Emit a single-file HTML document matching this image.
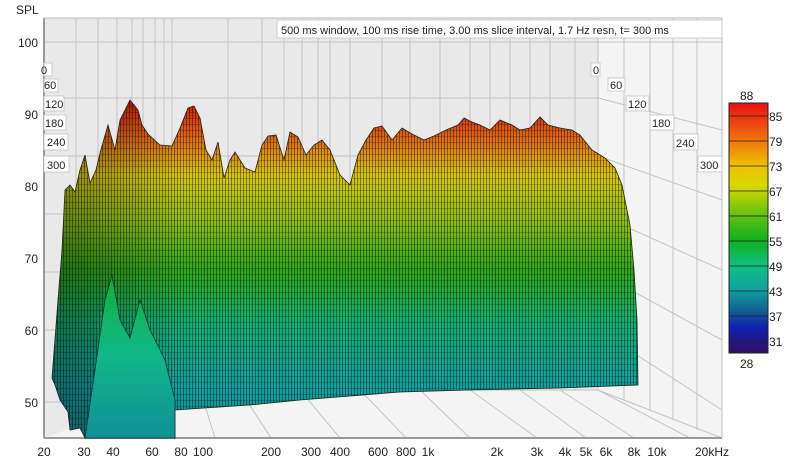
<!DOCTYPE html>
<html><head><meta charset="utf-8"><style>
body{margin:0;background:#fff;}
svg{display:block;font-family:"Liberation Sans",sans-serif;}
</style></head><body>
<svg width="800" height="465" viewBox="0 0 800 465" xmlns="http://www.w3.org/2000/svg">
<defs>
<linearGradient id="g" x1="0" y1="100" x2="0" y2="440" gradientUnits="userSpaceOnUse">
<stop offset="0" stop-color="#d01808"/>
<stop offset="0.12" stop-color="#e07010"/>
<stop offset="0.22" stop-color="#d8c800"/>
<stop offset="0.35" stop-color="#90c010"/>
<stop offset="0.5" stop-color="#30a818"/>
<stop offset="0.65" stop-color="#10b070"/>
<stop offset="0.85" stop-color="#10a0a0"/>
<stop offset="1" stop-color="#108890"/>
</linearGradient>
<linearGradient id="gm" x1="0" y1="270" x2="0" y2="438" gradientUnits="userSpaceOnUse">
<stop offset="0" stop-color="#10b030"/>
<stop offset="0.5" stop-color="#10b888"/>
<stop offset="1" stop-color="#109098"/>
</linearGradient>
<pattern id="st" width="3" height="6" patternUnits="userSpaceOnUse">
<rect x="0" y="0" width="0.9" height="6" fill="#000" opacity="0.45"/>
<rect x="0" y="4" width="3" height="0.7" fill="#000" opacity="0.3"/>
</pattern>
<linearGradient id="dk" x1="0" y1="0" x2="1" y2="0">
<stop offset="0" stop-color="#000" stop-opacity="0.35"/>
<stop offset="1" stop-color="#000" stop-opacity="0"/>
</linearGradient>
<linearGradient id="cb" x1="0" y1="0" x2="0" y2="1">
<stop offset="0" stop-color="#e81010"/>
<stop offset="0.12" stop-color="#f06010"/>
<stop offset="0.25" stop-color="#f0c000"/>
<stop offset="0.33" stop-color="#d8d800"/>
<stop offset="0.45" stop-color="#60c010"/>
<stop offset="0.55" stop-color="#10b020"/>
<stop offset="0.65" stop-color="#10c080"/>
<stop offset="0.75" stop-color="#10a0a0"/>
<stop offset="0.83" stop-color="#106090"/>
<stop offset="0.9" stop-color="#1020b0"/>
<stop offset="1" stop-color="#301060"/>
</linearGradient>
<clipPath id="cp"><path id="sp" d="M52,378 L58,300 L62,250 L65,190 L70,185 L75,192 L80,170 L85,155 L90,183 L96,170 L100,153 L108,125 L115,150 L120,120 L130,100 L138,110 L142,125 L148,134 L160,145 L172,146 L180,128 L188,108 L194,106 L200,118 L206,150 L212,160 L218,142 L224,178 L230,160 L235,152 L245,168 L255,172 L262,145 L268,136 L276,135 L284,160 L290,132 L298,137 L306,155 L314,145 L322,140 L330,150 L340,175 L350,185 L358,155 L366,140 L374,128 L382,126 L392,140 L402,128 L412,134 L424,140 L434,136 L446,130 L458,125 L464,118 L472,122 L480,125 L490,130 L500,120 L512,125 L520,130 L530,128 L540,117 L548,125 L560,128 L572,130 L580,135 L592,150 L605,158 L615,168 L622,185 L630,225 L634,270 L637,320 L638,385 L560,388 L470,390 L400,392 L300,400 L250,405 L175,410 L175,438 L85,438 L80,428 L70,430 L68,412 L60,400 L55,385 Z"/></clipPath>
</defs>
<text x="16" y="14" font-size="12" fill="#222">SPL</text>
<rect x="44" y="18" width="678" height="420" fill="#f4f4f4"/>
<polygon points="44,18 598,18 598,390 175,390 44,438" fill="#e9e9e9"/>
<g stroke="#c4c4c4" stroke-width="1" fill="none">
<line x1="44" y1="42" x2="722" y2="42"/>
<line x1="44" y1="98" x2="598" y2="98"/>
<line x1="44" y1="156" x2="598" y2="156"/>
<line x1="44" y1="214" x2="598" y2="214"/>
<line x1="44" y1="272" x2="598" y2="272"/>
<line x1="44" y1="330" x2="598" y2="330"/>
<line x1="44" y1="402" x2="175" y2="402"/>
<line x1="598" y1="98" x2="722" y2="130"/>
<line x1="598" y1="156" x2="722" y2="200"/>
<line x1="598" y1="214" x2="722" y2="270"/>
<line x1="598" y1="272" x2="722" y2="340"/>
<line x1="598" y1="330" x2="722" y2="410"/>
<line x1="598" y1="390" x2="722" y2="438"/>
<line x1="175" y1="390" x2="598" y2="390"/>
<path d="M76 18V390M98 18V390M117 18V390M132 18V390M143 18V390M155 18V390M164 18V390M172 18V390M228 18V390M262 18V390M284 18V390M302 18V390M318 18V390M330 18V390M350 18V390M382 18V390M410 18V390M440 18V390M470 18V390M490 18V390M510 18V390M530 18V390M550 18V390M575 18V390M598 18V390M624 18V400M650 18V410M673 18V420M697 18V430"/>
<path d="M200 390L215 438M240 390L271 438M300 390L340 438M360 390L406 438M420 390L470 438M470 390L537 438M520 390L586 438M560 390L634 438M598 390L690 438"/>
</g>
<line x1="44" y1="18" x2="44" y2="438" stroke="#999" stroke-width="2"/>
<line x1="44" y1="438" x2="722" y2="438" stroke="#999" stroke-width="2"/>
<line x1="722" y1="18" x2="722" y2="438" stroke="#bbb"/>
<line x1="44" y1="18" x2="722" y2="18" stroke="#bbb"/>
<g clip-path="url(#cp)">
<rect x="44" y="90" width="600" height="350" fill="url(#g)"/>
<rect x="44" y="90" width="600" height="350" fill="url(#st)"/>
<rect x="44" y="90" width="140" height="350" fill="url(#dk)"/>
</g>
<use href="#sp" fill="none" stroke="#222" stroke-width="0.8"/>
<polygon points="85,438 95,370 105,300 112,275 120,320 130,338 140,300 150,330 165,360 175,400 175,438" fill="url(#gm)" stroke="#133" stroke-width="0.8"/>
<g font-size="12" fill="#222" text-anchor="end">
<text x="38" y="47">100</text><text x="38" y="119">90</text><text x="38" y="191">80</text>
<text x="38" y="263">70</text><text x="38" y="335">60</text><text x="38" y="407">50</text>
</g>
<g font-size="12" fill="#222" text-anchor="middle">
<text x="44" y="456">20</text><text x="84" y="456">30</text><text x="113" y="456">40</text>
<text x="152" y="456">60</text><text x="181" y="456">80</text><text x="203" y="456">100</text>
<text x="271" y="456">200</text><text x="311" y="456">300</text><text x="340" y="456">400</text>
<text x="378" y="456">600</text><text x="406" y="456">800</text><text x="428" y="456">1k</text>
<text x="497" y="456">2k</text><text x="537" y="456">3k</text><text x="565" y="456">4k</text>
<text x="586" y="456">5k</text><text x="606" y="456">6k</text><text x="634" y="456">8k</text>
<text x="657" y="456">10k</text><text x="712" y="456">20kHz</text>
</g>
<g font-size="11" fill="#222">
<rect x="277" y="20" width="445" height="18" fill="#fff" stroke="#ccc"/>
<text x="281" y="34">500 ms window, 100 ms rise time, 3.00 ms slice interval, 1.7 Hz resn, t= 300 ms</text>
<rect x="44" y="63" width="8" height="13" fill="#fff" stroke="#ccc"/><text x="41" y="74">0</text>
<rect x="44" y="79" width="14" height="13" fill="#fff" stroke="#ccc"/><text x="44" y="89">60</text>
<rect x="44" y="96" width="20" height="15" fill="#fff" stroke="#ccc"/><text x="45" y="108">120</text>
<rect x="44" y="115" width="22" height="15" fill="#fff" stroke="#ccc"/><text x="45" y="127">180</text>
<rect x="44" y="134" width="24" height="16" fill="#fff" stroke="#ccc"/><text x="47" y="146">240</text>
<rect x="44" y="156" width="25" height="16" fill="#fff" stroke="#ccc"/><text x="47" y="169">300</text>
<rect x="591" y="63" width="9" height="13" fill="#fff" stroke="#ccc"/><text x="593" y="74">0</text>
<rect x="608" y="78" width="17" height="13" fill="#fff" stroke="#ccc"/><text x="610" y="89">60</text>
<rect x="626" y="96" width="23" height="15" fill="#fff" stroke="#ccc"/><text x="628" y="108">120</text>
<rect x="650" y="115" width="24" height="15" fill="#fff" stroke="#ccc"/><text x="652" y="127">180</text>
<rect x="674" y="134" width="24" height="16" fill="#fff" stroke="#ccc"/><text x="676" y="147">240</text>
<rect x="698" y="156" width="24" height="16" fill="#fff" stroke="#ccc"/><text x="700" y="169">300</text>
</g>
<rect x="729" y="103" width="39" height="250" fill="url(#cb)" stroke="#222"/>
<g stroke="#222" stroke-width="0.8">
<line x1="729" y1="116" x2="768" y2="116"/><line x1="729" y1="141" x2="768" y2="141"/>
<line x1="729" y1="166" x2="768" y2="166"/><line x1="729" y1="191" x2="768" y2="191"/>
<line x1="729" y1="216" x2="768" y2="216"/><line x1="729" y1="241" x2="768" y2="241"/>
<line x1="729" y1="266" x2="768" y2="266"/><line x1="729" y1="291" x2="768" y2="291"/>
<line x1="729" y1="316" x2="768" y2="316"/><line x1="729" y1="341" x2="768" y2="341"/>
</g>
<g font-size="12" fill="#222">
<text x="740" y="100">88</text><text x="740" y="368">28</text>
<text x="769" y="121">85</text><text x="769" y="146">79</text><text x="769" y="171">73</text>
<text x="769" y="196">67</text><text x="769" y="221">61</text><text x="769" y="246">55</text>
<text x="769" y="271">49</text><text x="769" y="296">43</text><text x="769" y="321">37</text>
<text x="769" y="346">31</text>
</g>
</svg>
</body></html>
